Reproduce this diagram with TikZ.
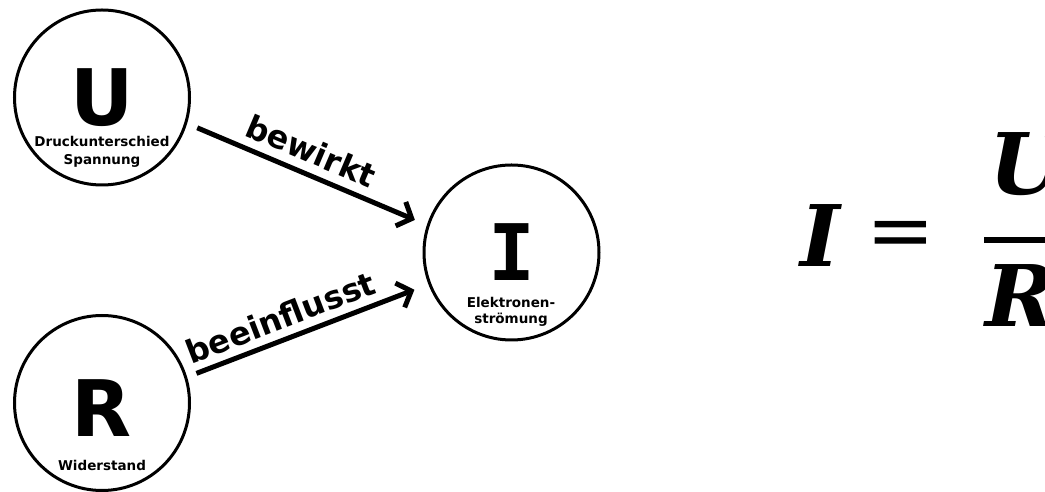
\documentclass[tikz,border=0pt]{standalone}
\usepackage{fontspec}
\setmainfont{DejaVu Sans}
\newfontfamily\slabfont{DejaVu Sans Mono}
\newfontfamily\eqfont{DejaVu Serif}
\usetikzlibrary{positioning,arrows.meta}

\begin{document}
\begin{tikzpicture}[x=1pt,y=1pt,
  bubble/.style={circle,draw,line width=3pt,minimum size=175pt,inner sep=0pt},
  bigletter/.style={font=\fontsize{78}{80}\selectfont\bfseries},
  caption/.style={font=\fontsize{13.5}{18}\selectfont\bfseries,align=center},
  link/.style={line width=5pt,-{Straight Barb[length=12pt,width=26pt]}},
  linklabel/.style={font=\fontsize{32}{34}\selectfont\bfseries,sloped},
  eqsym/.style={font=\fontsize{85}{90}\selectfont\eqfont\bfseries\itshape}]
\clip (0,0) rectangle (1045,492);
% the three quantities as circles
\node[bubble] (U) at (102,394.5) {};
\node[bubble] (R) at (102,89) {};
\node[bubble] (I) at (511.5,239.5) {};
\node[bigletter] (Ulet) at (U) {U};
\node[bigletter] (Rlet) at ([yshift=-5pt]R.center) {R};
\node[bigletter,font=\fontsize{78}{80}\selectfont\slabfont\bfseries] (Ilet) at (I) {I};
\node[caption] (Ucap) at (102,340) {Druckunterschied\\Spannung};
\node[caption] (Rcap) at (102,27) {Widerstand};
\node[caption,font=\fontsize{13.5}{16}\selectfont\bfseries] (Icap) at (511,180) {Elektronen-\\strömung};
% arrows U -> I and R -> I
\draw[link,shorten <=11pt,shorten >=13pt] (U.-17) -- node[linklabel,above=5pt,pos=0.48] {bewirkt} (I.162);
\draw[link,shorten <=10pt,shorten >=15pt] (R.17) -- node[linklabel,above=4pt,pos=0.42] {beeinflusst} (I.201);
% Ohm's law, cut at the right edge
\node[eqsym,anchor=base] (eqI) at (820,225) {I};
\node[eqsym,font=\fontsize{82}{90}\selectfont\eqfont] (eqis) at (901,252) {=};
\draw[line width=6pt] (984,252) -- (1110,252);
\node[eqsym,anchor=base west] (eqU) at (986,297) {U};
\node[eqsym,anchor=base west] (eqR) at (982,165) {R};
\end{tikzpicture}
\end{document}
